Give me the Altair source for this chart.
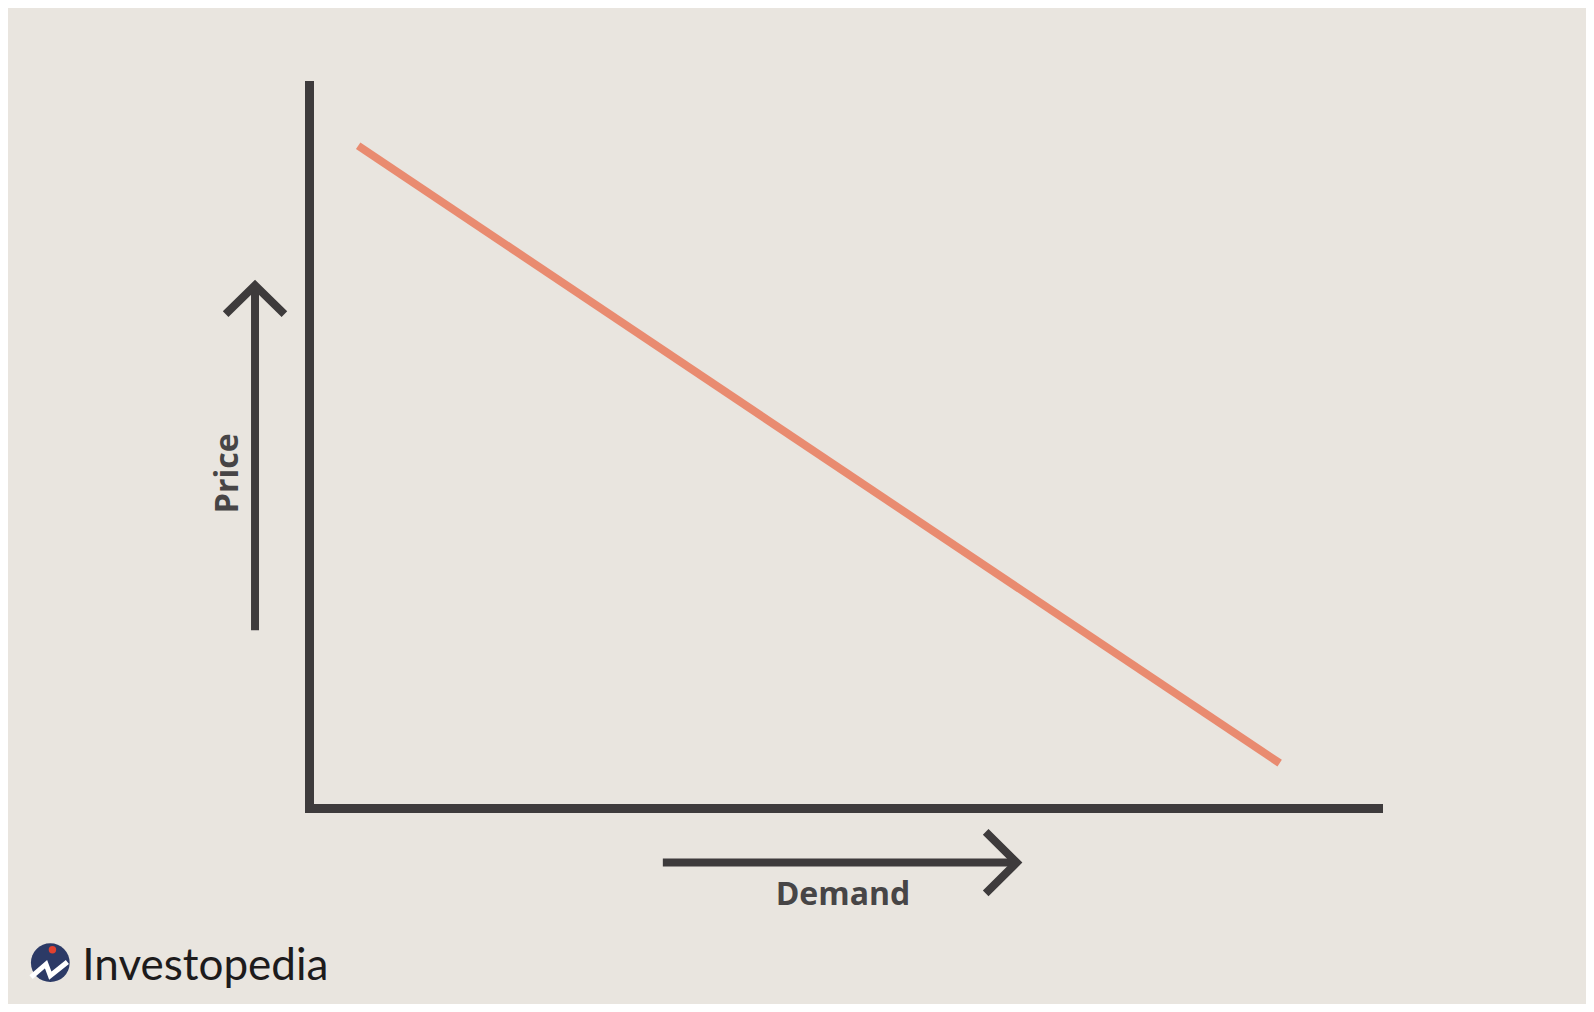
import altair as alt
import pandas as pd

# ---- data (abstract quantity / price units, 0..100 on each axis) ----
demand_q = [4.6, 90.8]
demand_p = [91.6, 6.2]

price_arrow_q = [-5.05, -5.05]
price_arrow_p = [24.6, 72.3]
price_head_q = [-7.8, -5.05, -2.3]
price_head_p = [68.3, 72.3, 68.3]

demand_arrow_q = [33.1, 66.2]
demand_arrow_p = [-7.55, -7.55]
demand_head_q = [63.3, 66.2, 63.3]
demand_head_p = [-3.3, -7.55, -11.8]

labels = ["Price", "Demand"]
label_q = [-7.6, 49.95]
label_p = [46.3, -12.0]

brand = "Investopedia"
brand_q = [-21.2]
brand_p = [-23.8]
logo_q = [-24.2]
logo_p = [-21.4]
logo_dot_q = [-24.0]
logo_dot_p = [-19.6]
logo_zig_q = [-26.0, -24.6, -24.2, -22.6]
logo_zig_p = [-23.4, -21.6, -23.2, -21.3]

AXIS_COLOR = "#3e3b3c"
TEXT_COLOR = "#474546"
CURVE_COLOR = "#e98b70"
BG = "#e9e5df"

xscale = alt.Scale(domain=[0, 100], nice=False, zero=False)
yscale = alt.Scale(domain=[0, 100], nice=False, zero=False)
axis_common = dict(domain=True, domainWidth=9, domainColor=AXIS_COLOR, domainCap="square",
                   ticks=False, labels=False, title=None, grid=False)
X = alt.X("q:Q", scale=xscale, axis=alt.Axis(**axis_common))
Y = alt.Y("p:Q", scale=yscale, axis=alt.Axis(**axis_common))

def seq(qs, ps):
    return pd.DataFrame({"q": qs, "p": ps, "o": list(range(len(qs)))})

demand_line = alt.Chart(seq(demand_q, demand_p)).mark_line(
    color=CURVE_COLOR, strokeWidth=8, strokeCap="butt").encode(x=X, y=Y, order="o:O")

def arrow(qs, ps):
    return alt.Chart(seq(qs, ps)).mark_line(
        color=AXIS_COLOR, strokeWidth=8, strokeCap="butt", strokeJoin="miter").encode(x=X, y=Y, order="o:O")

price_shaft = arrow(price_arrow_q, price_arrow_p)
price_head = arrow(price_head_q, price_head_p)
demand_shaft = arrow(demand_arrow_q, demand_arrow_p)
demand_head = arrow(demand_head_q, demand_head_p)

lab_df = pd.DataFrame({"q": label_q, "p": label_p, "t": labels})
price_text = alt.Chart(lab_df.iloc[[0]]).mark_text(
    font="Open Sans", fontWeight="bold", fontSize=32, color=TEXT_COLOR,
    angle=270, align="center", baseline="middle").encode(x=X, y=Y, text="t:N")
demand_text = alt.Chart(lab_df.iloc[[1]]).mark_text(
    font="Open Sans", fontWeight="bold", fontSize=32, color=TEXT_COLOR,
    align="center", baseline="middle").encode(x=X, y=Y, text="t:N")

logo_circle = alt.Chart(pd.DataFrame({"q": logo_q, "p": logo_p})).mark_point(
    shape="circle", filled=True, size=1500, color="#2c3a66", opacity=1).encode(x=X, y=Y)
logo_zig = alt.Chart(seq(logo_zig_q, logo_zig_p)).mark_line(
    color="white", strokeWidth=5, strokeJoin="miter").encode(x=X, y=Y, order="o:O")
logo_dot = alt.Chart(pd.DataFrame({"q": logo_dot_q, "p": logo_dot_p})).mark_point(
    shape="circle", filled=True, size=55, color="#e2412f", opacity=1).encode(x=X, y=Y)
brand_text = alt.Chart(pd.DataFrame({"q": brand_q, "p": brand_p, "t": [brand]})).mark_text(
    font="Lato", fontSize=44, color="#1d1b1c", align="left", baseline="alphabetic").encode(x=X, y=Y, text="t:N")

chart = alt.layer(
    demand_line, price_shaft, price_head, demand_shaft, demand_head,
    price_text, demand_text, logo_circle, logo_zig, logo_dot, brand_text
).properties(
    width=1069, height=723,
    padding={"left": 301, "top": 77, "right": 208, "bottom": 196},
    autosize=alt.AutoSizeParams(type="none"),
    background=BG,
).configure_view(stroke=None)

chart.save("out.html", embed_options={"renderer": "svg", "actions": False})
